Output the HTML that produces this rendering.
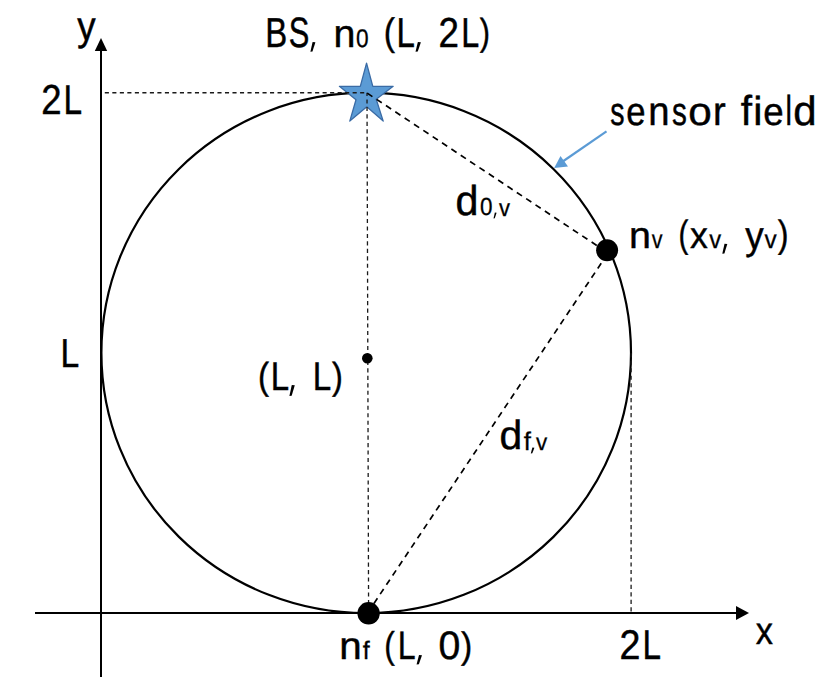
<!DOCTYPE html>
<html><head><meta charset="utf-8"><style>
html,body{margin:0;padding:0;background:#fff;}
svg{display:block;}
text{font-family:"Liberation Sans",sans-serif;font-size:40px;fill:#000;stroke:#000;stroke-width:0.45px;text-rendering:geometricPrecision;}
</style></head><body>
<svg width="837" height="692" viewBox="0 0 837 692">
<rect width="837" height="692" fill="#fff"/>
<!-- axes -->
<line x1="101" y1="50" x2="101" y2="677" stroke="#000" stroke-width="2"/>
<polygon points="101,38 94.8,51 107.2,51" fill="#000"/>
<line x1="35" y1="613" x2="737" y2="613" stroke="#000" stroke-width="2"/>
<polygon points="749,613 736,606 736,620" fill="#000"/>
<!-- circle -->
<ellipse cx="366.2" cy="352.9" rx="264.8" ry="260.2" fill="none" stroke="#000" stroke-width="2.2"/>
<!-- star -->
<polygon points="366.55,63.2 372.8,86.3 393.2,86.3 376.2,99.2 383.2,121.1 366.8,106.8 349.8,121.1 356,99.8 339.4,86.3 360.3,86.3" fill="#5B9BD5" stroke="#3A6BA5" stroke-width="1.3" stroke-linejoin="round"/>
<!-- dashed -->
<line x1="104.8" y1="92.75" x2="367" y2="92.75" stroke="#1a1a1a" stroke-width="1.3" stroke-dasharray="4.1 3.41"/>
<line x1="367" y1="92.75" x2="368.6" y2="613" stroke="#1a1a1a" stroke-width="1.3" stroke-dasharray="4.1 3.37" stroke-dashoffset="0.8"/>
<line x1="631.1" y1="353.3" x2="631.1" y2="613" stroke="#1a1a1a" stroke-width="1.3" stroke-dasharray="4.1 3.37"/>
<line x1="367" y1="93" x2="607" y2="252.3" stroke="#000" stroke-width="1.7" stroke-dasharray="6.2 5.02" stroke-dashoffset="-0.3"/>
<line x1="367.6" y1="613" x2="610.1" y2="250" stroke="#000" stroke-width="1.7" stroke-dasharray="6.2 4.99" stroke-dashoffset="-0.3"/>
<!-- dots -->
<circle cx="607.1" cy="250.3" r="11" fill="#000"/>
<circle cx="368.6" cy="613.3" r="11.2" fill="#000"/>
<circle cx="367.3" cy="358.3" r="5.3" fill="#000"/>
<!-- blue arrow -->
<line x1="606.5" y1="131.3" x2="562" y2="162" stroke="#5B9BD5" stroke-width="2.2"/>
<polygon points="554.2,168.1 560.5,156 568,166.4" fill="#5B9BD5"/>
<!-- texts -->
<text transform="matrix(0.9181 0 0 1.0209 77.29 40.30)">y</text>
<text transform="matrix(0.8244 0 0 1.0483 265.22 46.78)">B</text>
<text transform="matrix(0.7708 0 0 1.0611 288.82 46.86)">S</text>
<polygon points="312.60,42.10 315.40,42.29 312.50,51.61 310.40,51.80" fill="#000"/>
<text transform="matrix(0.9857 0 0 0.9780 333.51 46.57)">n</text>
<text transform="matrix(0.5674 0 0 0.6374 356.04 46.63)">0</text>
<text transform="matrix(0.8439 0 0 0.9593 383.83 45.43)">(</text>
<text transform="matrix(0.8250 0 0 1.0483 396.52 46.78)">L</text>
<polygon points="417.88,42.10 420.90,42.29 417.77,51.61 415.50,51.80" fill="#000"/>
<text transform="matrix(0.9192 0 0 1.0473 438.38 46.88)">2</text>
<text transform="matrix(0.8080 0 0 1.0483 461.27 46.78)">L</text>
<text transform="matrix(0.7685 0 0 0.9405 479.84 45.19)">)</text>
<text transform="matrix(0.9137 0 0 1.0437 41.19 113.78)">2</text>
<text transform="matrix(0.8363 0 0 1.0338 63.58 113.78)">L</text>
<text transform="matrix(0.7138 0 0 0.9906 610.33 124.89)">s</text>
<text transform="matrix(0.8658 0 0 0.9880 626.35 124.89)">e</text>
<text transform="matrix(0.9563 0 0 1.0059 648.28 125.28)">n</text>
<text transform="matrix(0.7425 0 0 0.9906 671.90 124.89)">s</text>
<text transform="matrix(1.0563 0 0 0.9880 688.15 124.89)">o</text>
<text transform="matrix(0.9550 0 0 1.0059 712.89 125.28)">r</text>
<text transform="matrix(1.0136 0 0 1.0451 740.75 125.08)">f</text>
<text transform="matrix(1.0382 0 0 1.0092 753.25 125.08)">i</text>
<text transform="matrix(0.9190 0 0 0.9788 763.16 124.69)">e</text>
<text transform="matrix(0.7253 0 0 1.0437 785.57 125.08)">l</text>
<text transform="matrix(1.0479 0 0 1.0298 793.36 124.67)">d</text>
<text transform="matrix(1.0312 0 0 1.0434 455.49 215.47)">d</text>
<text transform="matrix(0.5622 0 0 0.6197 480.05 215.43)">0</text>
<polygon points="494.86,212.60 496.60,212.72 494.80,218.28 493.50,218.40" fill="#000"/>
<text transform="matrix(0.5500 0 0 0.5986 499.05 215.78)">v</text>
<text transform="matrix(0.9857 0 0 0.9315 629.11 247.78)">n</text>
<text transform="matrix(0.5399 0 0 0.6412 651.85 247.78)">v</text>
<text transform="matrix(0.7402 0 0 0.9513 678.39 246.70)">(</text>
<text transform="matrix(0.8917 0 0 0.9298 689.92 247.78)">x</text>
<text transform="matrix(0.5956 0 0 0.6412 709.14 247.78)">v</text>
<polygon points="724.50,243.70 727.30,243.90 724.40,253.50 722.30,253.70" fill="#000"/>
<text transform="matrix(0.9206 0 0 0.9836 745.14 248.91)">y</text>
<text transform="matrix(0.6109 0 0 0.6412 764.54 247.78)">v</text>
<text transform="matrix(0.8062 0 0 0.9513 777.64 246.70)">)</text>
<text transform="matrix(0.8420 0 0 1.0120 60.46 367.27)">L</text>
<text transform="matrix(0.8250 0 0 0.9405 257.98 389.49)">(</text>
<text transform="matrix(0.8250 0 0 1.0011 270.82 390.27)">L</text>
<polygon points="291.78,385.10 294.80,385.32 291.67,395.68 289.40,395.90" fill="#000"/>
<text transform="matrix(0.8307 0 0 1.0011 312.70 390.27)">L</text>
<text transform="matrix(0.8156 0 0 0.9405 331.93 389.49)">)</text>
<text transform="matrix(1.0201 0 0 1.0162 499.61 449.48)">d</text>
<text transform="matrix(0.6459 0 0 0.6409 523.76 449.77)">f</text>
<polygon points="532.38,447.60 534.40,447.72 532.31,453.28 530.80,453.40" fill="#000"/>
<text transform="matrix(0.5602 0 0 0.5891 536.05 449.77)">v</text>
<text transform="matrix(1.0093 0 0 0.9687 339.24 659.07)">n</text>
<text transform="matrix(0.6270 0 0 0.6340 362.87 659.07)">f</text>
<text transform="matrix(0.7873 0 0 0.9298 384.27 658.07)">(</text>
<text transform="matrix(0.8023 0 0 0.9902 397.79 658.77)">L</text>
<polygon points="418.98,655.00 422.00,655.19 418.87,664.21 416.60,664.40" fill="#000"/>
<text transform="matrix(0.9806 0 0 0.9975 438.59 658.89)">0</text>
<text transform="matrix(0.8439 0 0 0.9271 460.93 657.90)">)</text>
<text transform="matrix(0.9411 0 0 1.0365 619.43 658.88)">2</text>
<text transform="matrix(0.8307 0 0 1.0411 642.60 658.88)">L</text>
<text transform="matrix(0.8603 0 0 0.9582 755.74 644.38)">x</text>
</svg>
</body></html>
